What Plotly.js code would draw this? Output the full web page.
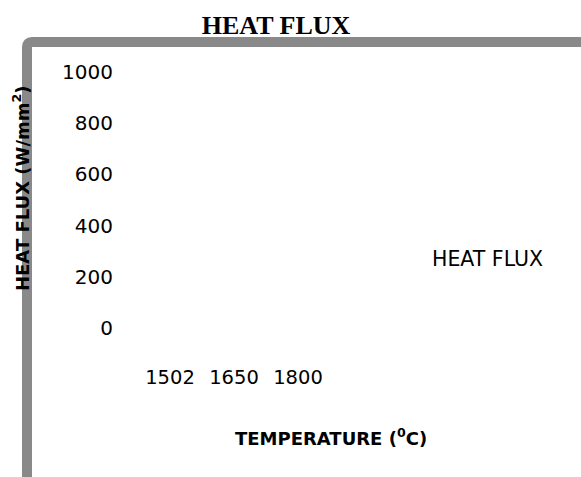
<!DOCTYPE html>
<html>
<head>
<meta charset="utf-8">
<script src="https://cdn.plot.ly/plotly-3.0.1.min.js"></script>
<style>html,body{margin:0;padding:0;background:#fff;}#chart{width:581px;height:477px;}</style>
</head>
<body>
<div id="chart"></div>
<script>
// Data
var temperatures = ['1502', '1650', '1800'];
var heatFlux = [0, 0, 0];
var yTickValues = [0, 200, 400, 600, 800, 1000];
var seriesName = 'HEAT FLUX';
var chartTitle = 'HEAT FLUX';
var xTitle = 'TEMPERATURE (<sup>0</sup>C)';
var yTitle = 'HEAT FLUX (W/mm<sup>2</sup>)';

// Plot geometry (pixels)
var W = 581, H = 477;
var L = 138, R = 330, T = 72, B = 328;
function px(x) { return (x - L) / (R - L); }
function py(y) { return (B - y) / (B - T); }

var trace = {
  type: 'bar',
  x: temperatures,
  y: heatFlux,
  name: seriesName,
  marker: {color: 'rgba(255,255,255,0)'},
  showlegend: true
};

var sansFont = '"DejaVu Sans", "Open Sans", sans-serif';

var layout = {
  width: W, height: H,
  margin: {l: L, r: W - R, t: T, b: H - B, pad: 0},
  paper_bgcolor: '#ffffff',
  plot_bgcolor: '#ffffff',
  title: {
    text: '<b>' + chartTitle + '</b>',
    font: {family: '"Liberation Serif", "Times New Roman", serif', size: 26, color: '#000'},
    x: 276 / W, xanchor: 'center',
    y: 1 - 25 / H, yanchor: 'middle'
  },
  xaxis: {
    type: 'category',
    range: [-0.5, 2.5],
    showgrid: false, zeroline: false, showline: false,
    ticks: 'outside', ticklen: 32, tickcolor: 'rgba(0,0,0,0)',
    tickfont: {family: sansFont, size: 19.5, color: '#000'}
  },
  yaxis: {
    range: [0, 1000],
    tickvals: yTickValues,
    showgrid: false, zeroline: false, showline: false,
    ticks: 'outside', ticklen: 20, tickcolor: 'rgba(0,0,0,0)',
    tickfont: {family: sansFont, size: 20, color: '#000'}
  },
  showlegend: true,
  legend: {
    x: px(392), xanchor: 'left',
    y: py(258), yanchor: 'middle',
    font: {family: sansFont, size: 20.5, color: '#000'},
    bgcolor: 'rgba(0,0,0,0)'
  },
  annotations: [
    {
      text: '<b>' + xTitle + '</b>',
      xref: 'paper', yref: 'paper',
      x: px(331), y: py(437),
      xanchor: 'center', yanchor: 'middle',
      showarrow: false,
      font: {family: sansFont, size: 18, color: '#000'}
    },
    {
      text: '<b>' + yTitle + '</b>',
      xref: 'paper', yref: 'paper',
      x: px(21), y: py(188),
      xanchor: 'center', yanchor: 'middle',
      textangle: -90,
      showarrow: false,
      font: {family: sansFont, size: 18, color: '#000'}
    }
  ],
  shapes: [
    {
      type: 'path',
      xref: 'paper', yref: 'paper',
      path: 'M ' + px(27) + ' ' + py(490) +
            ' L ' + px(27) + ' ' + py(47) +
            ' Q ' + px(27) + ' ' + py(42) + ' ' + px(32) + ' ' + py(42) +
            ' L ' + px(600) + ' ' + py(42),
      line: {color: '#898989', width: 10},
      layer: 'above'
    }
  ]
};

Plotly.newPlot('chart', [trace], layout, {displayModeBar: false, staticPlot: true});
</script>
</body>
</html>
